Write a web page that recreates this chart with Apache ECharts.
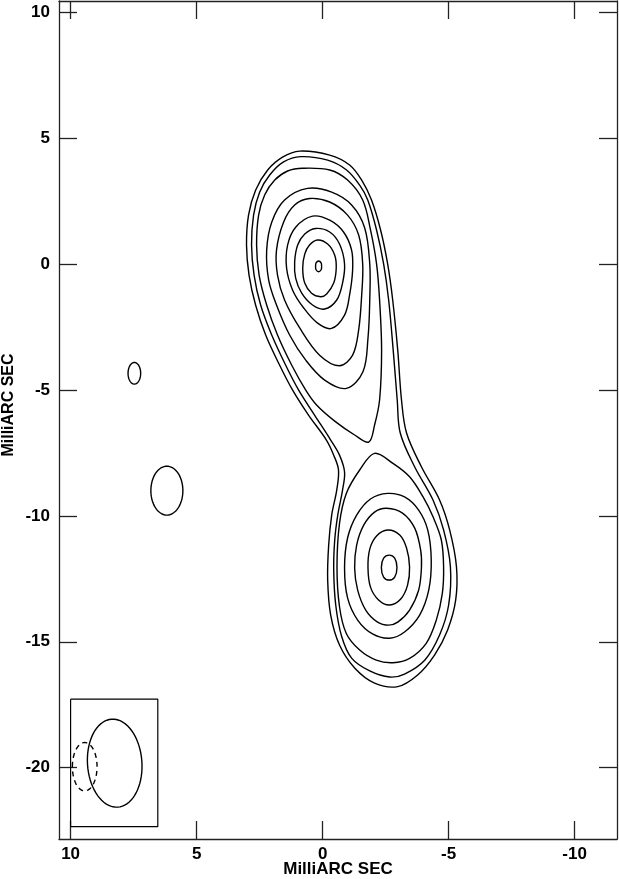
<!DOCTYPE html>
<html>
<head>
<meta charset="utf-8">
<script src="https://cdn.jsdelivr.net/npm/echarts@6/dist/echarts.min.js"></script>
<style>
html,body{margin:0;padding:0;background:#fff;}
#chart{width:619px;height:879px;}
</style>
</head>
<body>
<div id="chart"></div>
<script>
// Axis ticks (milliarcseconds)
const xTicks = [10, 5, 0, -5, -10];
const yTicks = [10, 5, 0, -5, -10, -15, -20];

// Contour levels, [x (mas), y (mas)]
const contourL1 = [[0.91,4.48],[-0.28,4.32],[-1.07,3.93],[-1.55,3.33],[-1.94,2.54],[-2.30,1.35],[-2.58,0.00],[-2.78,-1.43],[-2.98,-3.42],[-3.13,-5.40],[-3.33,-6.71],[-3.92,-8.05],[-4.64,-9.37],[-5.04,-10.56],[-5.31,-12.02],[-5.28,-13.34],[-4.96,-14.53],[-4.44,-15.53],[-3.77,-16.32],[-2.98,-16.78],[-2.06,-16.64],[-1.27,-16.04],[-0.67,-15.13],[-0.32,-13.94],[-0.20,-12.55],[-0.24,-11.16],[-0.36,-9.97],[-0.56,-8.98],[-0.63,-8.18],[-0.44,-7.59],[-0.15,-6.99],[0.56,-6.00],[1.19,-5.01],[1.71,-4.01],[2.26,-2.82],[2.66,-1.63],[2.92,-0.44],[3.02,0.75],[2.94,1.94],[2.66,2.93],[2.18,3.73],[1.59,4.24]];
const contourL2 = [[0.87,4.26],[-0.20,4.12],[-0.95,3.73],[-1.47,3.13],[-1.79,2.54],[-2.14,1.35],[-2.42,0.00],[-2.62,-1.43],[-2.80,-3.42],[-2.96,-5.40],[-3.08,-6.71],[-3.65,-8.05],[-4.38,-9.37],[-4.80,-10.56],[-5.07,-12.02],[-5.00,-13.54],[-4.64,-14.73],[-4.05,-15.73],[-3.25,-16.28],[-2.66,-16.40],[-1.87,-16.16],[-1.15,-15.65],[-0.75,-14.77],[-0.52,-13.54],[-0.44,-12.15],[-0.48,-10.96],[-0.60,-9.97],[-0.79,-8.98],[-0.87,-8.26],[-0.67,-7.59],[-0.32,-6.99],[0.32,-6.00],[0.95,-5.01],[1.47,-4.01],[2.02,-2.82],[2.46,-1.63],[2.72,-0.44],[2.82,0.75],[2.74,1.94],[2.50,2.85],[2.10,3.53],[1.55,4.05]];
const contourL3a = [[0.79,3.80],[-0.28,3.73],[-0.99,3.33],[-1.59,2.54],[-1.90,1.35],[-2.14,0.00],[-2.26,-1.43],[-2.34,-3.42],[-2.26,-5.40],[-2.06,-6.40],[-1.83,-7.07],[-1.27,-6.79],[-0.48,-6.24],[0.24,-5.60],[0.67,-5.01],[1.23,-4.01],[1.79,-2.82],[2.22,-1.63],[2.52,-0.44],[2.62,0.75],[2.54,1.94],[2.30,2.74],[1.90,3.33],[1.39,3.69]];
const contourL3b = [[-2.06,-7.52],[-2.79,-7.92],[-3.45,-8.45],[-3.98,-9.24],[-4.38,-10.04],[-4.71,-10.96],[-4.80,-12.02],[-4.75,-13.08],[-4.51,-14.14],[-4.11,-15.06],[-3.45,-15.66],[-2.79,-15.83],[-2.13,-15.73],[-1.47,-15.33],[-0.94,-14.67],[-0.67,-13.61],[-0.57,-12.02],[-0.67,-10.30],[-0.94,-9.11],[-1.47,-8.18]];
const contourL4a = [[0.60,3.00],[-0.36,2.85],[-1.15,2.34],[-1.67,1.43],[-1.87,0.00],[-1.87,-1.43],[-1.80,-2.94],[-1.60,-4.28],[-0.94,-4.94],[-0.08,-4.61],[0.67,-3.82],[1.31,-2.82],[1.83,-1.63],[2.14,-0.64],[2.22,0.55],[2.02,1.66],[1.51,2.54]];
const contourL4b = [[-2.58,-9.11],[-3.25,-9.25],[-3.81,-9.77],[-4.17,-10.56],[-4.31,-11.76],[-4.21,-12.95],[-3.85,-13.94],[-3.25,-14.61],[-2.66,-14.86],[-1.98,-14.69],[-1.39,-14.14],[-0.99,-13.26],[-0.87,-12.07],[-0.99,-10.88],[-1.35,-9.97],[-1.90,-9.33]];
const contourL5a = [[0.52,2.60],[-0.28,2.46],[-0.99,1.94],[-1.43,1.15],[-1.59,0.00],[-1.55,-1.23],[-1.43,-2.62],[-1.19,-3.62],[-0.67,-4.04],[0.12,-3.62],[0.91,-2.54],[1.51,-1.43],[1.79,-0.44],[1.83,0.55],[1.55,1.66],[1.11,2.34]];
const contourL5b = [[-2.54,-9.70],[-3.17,-9.89],[-3.65,-10.48],[-3.89,-11.36],[-3.92,-12.07],[-3.81,-12.95],[-3.45,-13.74],[-2.98,-14.22],[-2.62,-14.34],[-2.18,-14.22],[-1.71,-13.74],[-1.39,-12.95],[-1.27,-12.07],[-1.35,-11.16],[-1.63,-10.37],[-2.06,-9.85]];
const contourL6a = [[0.40,1.90],[-0.28,1.74],[-0.83,1.27],[-1.15,0.55],[-1.19,-0.24],[-1.07,-1.23],[-0.87,-2.03],[-0.35,-2.56],[0.20,-2.35],[0.75,-1.75],[1.19,-1.04],[1.43,-0.16],[1.39,0.75],[1.07,1.46]];
const contourL6b = [[-2.58,-10.56],[-3.06,-10.76],[-3.33,-11.28],[-3.45,-12.03],[-3.37,-12.75],[-3.10,-13.30],[-2.66,-13.54],[-2.22,-13.34],[-1.90,-12.83],[-1.80,-12.07],[-1.87,-11.32],[-2.14,-10.80]];
const contourL7a = [[0.28,1.41],[-0.28,1.27],[-0.67,0.79],[-0.87,0.00],[-0.79,-0.76],[-0.56,-1.43],[-0.08,-1.79],[0.40,-1.63],[0.83,-1.16],[1.07,-0.56],[1.11,0.08],[0.99,0.75],[0.71,1.19]];
const contourL7b = [[-2.64,-11.56],[-2.86,-11.68],[-2.95,-12.05],[-2.86,-12.43],[-2.64,-12.55],[-2.42,-12.43],[-2.33,-12.05],[-2.42,-11.68]];
const contourL8 = [[0.20,0.95],[-0.20,0.79],[-0.48,0.35],[-0.54,-0.16],[-0.44,-0.76],[-0.16,-1.19],[0.08,-1.30],[0.44,-1.16],[0.71,-0.76],[0.79,-0.16],[0.71,0.39],[0.52,0.75]];
const contourL9 = [[0.16,0.12],[0.06,0.04],[0.04,-0.10],[0.06,-0.23],[0.16,-0.31],[0.26,-0.23],[0.28,-0.10],[0.26,0.04]];

// Isolated components and restoring beam: [centre x, centre y, semi-axis x, semi-axis y, rotation deg]
const islands = [[7.47,-4.34,0.25,0.43,0],[6.18,-9.00,0.635,0.97,0]];
const beamSolid = [[8.25,-19.82,1.08,1.75,-4]];
const beamDashed = [[9.44,-19.96,0.49,0.96,0]];
const beamBox = [[10,-17.28],[6.54,-17.28],[6.54,-22.34],[10,-22.34],[10,-17.28]];

const INK = '#000';
const AXIS = '#222';

function contourSeries(pts) {
  return {
    type: 'custom', coordinateSystem: 'cartesian2d', silent: true,
    data: pts, encode: {x: 0, y: 1},
    renderItem: function (params, api) {
      if (params.dataIndex !== 0) return null;
      return {
        type: 'polygon',
        shape: {points: pts.map(function (p) { return api.coord(p); }), smooth: 0.35},
        style: {fill: 'none', stroke: INK, lineWidth: 1.4}
      };
    }
  };
}

function ellipseSeries(list, dashed) {
  return {
    type: 'custom', coordinateSystem: 'cartesian2d', silent: true,
    data: list, encode: {x: 0, y: 1},
    renderItem: function (params, api) {
      const cx = api.value(0), cy = api.value(1), a = api.value(2), b = api.value(3);
      const r = api.value(4) * Math.PI / 180;
      const pts = [];
      for (let i = 0; i < 72; i++) {
        const t = i / 72 * 2 * Math.PI;
        const dx = a * Math.cos(t), dy = b * Math.sin(t);
        pts.push(api.coord([cx + dx * Math.cos(r) - dy * Math.sin(r), cy + dx * Math.sin(r) + dy * Math.cos(r)]));
      }
      return {
        type: 'polygon', shape: {points: pts},
        style: {fill: 'none', stroke: INK, lineWidth: 1.4, lineDash: dashed ? [5, 4] : null}
      };
    }
  };
}

const labelFont = {fontFamily: 'Liberation Sans, Arial, sans-serif', fontWeight: 'bold', color: '#000'};
const axisLineStyle = {color: AXIS, width: 1.3};

function xAx(pos, main) {
  return {
    type: 'value', position: pos, inverse: true, min: -11.68, max: 10.46,
    axisLine: {show: true, onZero: false, lineStyle: axisLineStyle},
    axisTick: {show: true, inside: true, length: 18, customValues: xTicks, lineStyle: axisLineStyle},
    axisLabel: main ? Object.assign({show: true, customValues: xTicks, fontSize: 17, margin: 7}, labelFont) : {show: false},
    splitLine: {show: false},
    name: main ? 'MilliARC SEC' : '', nameLocation: 'middle', nameGap: 22, nameMoveOverlap: false,
    nameTextStyle: Object.assign({fontSize: 17}, labelFont)
  };
}
function yAx(pos, main) {
  return {
    type: 'value', position: pos, min: -22.83, max: 10.44,
    axisLine: {show: true, onZero: false, lineStyle: axisLineStyle},
    axisTick: {show: true, inside: true, length: 18, customValues: yTicks, lineStyle: axisLineStyle},
    axisLabel: main ? Object.assign({show: true, customValues: yTicks, fontSize: 17, margin: 9}, labelFont) : {show: false},
    splitLine: {show: false},
    name: main ? 'MilliARC SEC' : '', nameLocation: 'middle', nameGap: 42, nameMoveOverlap: false,
    nameTextStyle: Object.assign({fontSize: 16, padding: [0, 0, 0, 30]}, labelFont)
  };
}

const chart = echarts.init(document.getElementById('chart'), null, {renderer: 'canvas'});
const contours = [contourL1, contourL2, contourL3a, contourL3b, contourL4a, contourL4b,
  contourL5a, contourL5b, contourL6a, contourL6b, contourL7a, contourL7b, contourL8, contourL9];
const series = contours.map(contourSeries);
series.push(ellipseSeries(islands, false));
series.push(ellipseSeries(beamSolid, false));
series.push(ellipseSeries(beamDashed, true));
series.push({
  type: 'line', data: beamBox, symbol: 'none', silent: true,
  lineStyle: {color: INK, width: 1.2}
});

chart.setOption({
  animation: false,
  backgroundColor: '#fff',
  grid: {left: 59, right: 2, top: 1, bottom: 40, containLabel: false, outerBoundsMode: 'none'},
  xAxis: [xAx('bottom', true), xAx('top', false)],
  yAxis: [yAx('left', true), yAx('right', false)],
  series: series
});
</script>
</body>
</html>
